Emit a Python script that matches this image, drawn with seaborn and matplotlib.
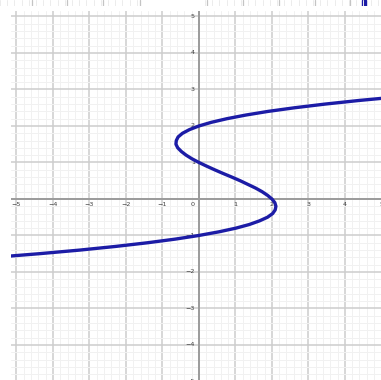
import matplotlib
matplotlib.use("Agg")
import matplotlib.pyplot as plt
import seaborn as sns
from matplotlib.ticker import MultipleLocator

# Curve points: x as a function of y
curve_y = [-1.6, -1.5, -1.4, -1.3, -1.2, -1.1, -1.0, -0.9, -0.8, -0.7, -0.6,
           -0.5, -0.4, -0.3, -0.2, -0.1, 0.0, 0.1, 0.2, 0.3, 0.4, 0.5, 0.6,
           0.7, 0.8, 0.9, 1.0, 1.1, 1.2, 1.3, 1.4, 1.5, 1.6, 1.7, 1.8, 1.9,
           2.0, 2.1, 2.2, 2.3, 2.4, 2.5, 2.6, 2.7, 2.8]
curve_x = [-5.62, -4.38, -3.26, -2.28, -1.41, -0.65, 0.00, 0.55, 1.01, 1.38,
           1.66, 1.88, 2.02, 2.09, 2.11, 2.08, 2.00, 1.88, 1.73, 1.55, 1.34,
           1.13, 0.90, 0.66, 0.43, 0.21, 0.00, -0.19, -0.35, -0.48, -0.58,
           -0.63, -0.62, -0.57, -0.45, -0.26, 0.00, 0.34, 0.77, 1.29, 1.90,
           2.63, 3.46, 4.40, 5.47]

x_tick_values = [-5, -4, -3, -2, -1, 1, 2, 3, 4, 5]
y_tick_values = [-5, -4, -3, -2, -1, 1, 2, 3, 4, 5]

sns.set_style("white")

W, H = 381, 380
fig = plt.figure(figsize=(W / 100, H / 100), dpi=100)

# main coordinate plane
ax = fig.add_axes([11 / W, 0, (W - 11) / W, (H - 11) / H])
ax.set_xlim(-5.15, 4.99)
ax.set_ylim(-4.96, 5.15)

ax.xaxis.set_major_locator(MultipleLocator(1))
ax.yaxis.set_major_locator(MultipleLocator(1))
ax.xaxis.set_minor_locator(MultipleLocator(0.2))
ax.yaxis.set_minor_locator(MultipleLocator(0.2))
ax.grid(which="minor", color="#f1f1f1", lw=0.7, zorder=0)
ax.grid(which="major", color="#cdcdcd", lw=1.1, zorder=0)
ax.tick_params(which="both", length=0, labelbottom=False, labelleft=False)
for s in ax.spines.values():
    s.set_visible(False)

ax.axhline(0, color="#9c9c9c", lw=1.4, zorder=1)
ax.axvline(0, color="#9c9c9c", lw=1.4, zorder=1)

lab_kw = dict(fontsize=4.6, color="#404040", zorder=2)
for v in x_tick_values:
    ax.text(v, -0.09, f"{v}".replace("-", "\u2212"), ha="center", va="top", **lab_kw)
for v in y_tick_values:
    ax.text(-0.11, v, f"{v}".replace("-", "\u2212"), ha="right", va="center", **lab_kw)
ax.text(-0.11, -0.09, "0", ha="right", va="top", **lab_kw)

sns.lineplot(x=curve_x, y=curve_y, sort=False, estimator=None, ax=ax,
             color="#1c1ca6", lw=2.4, zorder=3)
ax.set_xlabel("")
ax.set_ylabel("")

# thin toolbar strip along the top edge
top = fig.add_axes([0, 1 - 6 / H, 1, 6 / H])
top.set_xlim(0, W)
top.set_ylim(0, 1)
top.axis("off")
for x0, x1 in [(0, 142), (205, 381)]:
    step = 7.2
    x = x0
    while x <= x1:
        top.axvline(x, color="#ececec", lw=0.7)
        x += step
for x in [32, 67, 103, 140, 207, 243, 279, 315, 350]:
    top.axvline(x, color="#c4c4c4", lw=0.9)
top.axvspan(362, 366, color="#1c1ca6")

fig.savefig("out.png", dpi=100)
